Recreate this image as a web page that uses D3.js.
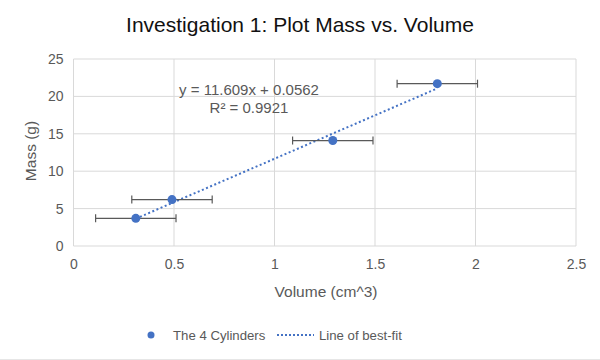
<!DOCTYPE html>
<html><head><meta charset="utf-8">
<script src="https://cdn.jsdelivr.net/npm/d3@7"></script>
<style>body{margin:0;background:#fff}svg{display:block;font-family:"Liberation Sans",Arial,sans-serif}</style>
</head><body><svg id="c" width="600" height="360"></svg>
<script>
const volumes = [0.31, 0.49, 1.29, 1.81];
const masses = [3.7, 6.2, 14.1, 21.7];
const xErrors = [0.2, 0.2, 0.2, 0.2];
const fitSlope = 11.609, fitIntercept = 0.0562;
const xTicks = [0, 0.5, 1, 1.5, 2, 2.5];
const yTicks = [0, 5, 10, 15, 20, 25];
const titleText = "Investigation 1: Plot Mass vs. Volume";
const xTitle = "Volume (cm^3)", yTitle = "Mass (g)";
const eqLines = ["y = 11.609x + 0.0562", "R² = 0.9921"];
const legendLabels = ["The 4 Cylinders", "Line of best-fit"];

const svg = d3.select("#c");
const blue = "#4472c4", grid = "#d9d9d9", txt = "#595959";
const x = d3.scaleLinear().domain([0, 2.5]).range([73.5, 576]);
const y = d3.scaleLinear().domain([0, 25]).range([246, 59]);

// gridlines
svg.append("g").selectAll("line").data(xTicks).join("line")
  .attr("x1", d => x(d)).attr("x2", d => x(d)).attr("y1", y(0)).attr("y2", y(25))
  .attr("stroke", grid).attr("stroke-width", 1);
svg.append("g").selectAll("line").data(yTicks).join("line")
  .attr("x1", x(0)).attr("x2", x(2.5)).attr("y1", d => y(d)).attr("y2", d => y(d))
  .attr("stroke", grid).attr("stroke-width", 1);

// axes labels via d3 axes
const xa = svg.append("g").attr("transform", `translate(0,${y(0)})`)
  .call(d3.axisBottom(x).tickValues(xTicks).tickSize(0).tickPadding(13).tickFormat(d3.format("")));
const ya = svg.append("g").attr("transform", `translate(${x(0)},0)`)
  .call(d3.axisLeft(y).tickValues(yTicks).tickSize(0).tickPadding(10));
[xa, ya].forEach(a => {
  a.select(".domain").remove();
  a.selectAll("text").attr("fill", txt).attr("font-size", 14).attr("font-family", "Liberation Sans, Arial, sans-serif");
});

// trendline
const xs = d3.extent(volumes);
svg.append("line")
  .attr("x1", x(xs[0])).attr("y1", y(fitSlope * xs[0] + fitIntercept))
  .attr("x2", x(xs[1])).attr("y2", y(fitSlope * xs[1] + fitIntercept))
  .attr("stroke", blue).attr("stroke-width", 2).attr("stroke-dasharray", "2,2.5");

// error bars
const eb = svg.append("g").attr("stroke", "#595959").attr("stroke-width", 1.2);
volumes.forEach((v, i) => {
  const yy = y(masses[i]);
  eb.append("line").attr("x1", x(v - xErrors[i])).attr("x2", x(v + xErrors[i])).attr("y1", yy).attr("y2", yy);
  eb.append("line").attr("x1", x(v - xErrors[i])).attr("x2", x(v - xErrors[i])).attr("y1", yy - 4).attr("y2", yy + 4);
  eb.append("line").attr("x1", x(v + xErrors[i])).attr("x2", x(v + xErrors[i])).attr("y1", yy - 4).attr("y2", yy + 4);
});

// points
svg.append("g").selectAll("circle").data(volumes).join("circle")
  .attr("cx", d => x(d)).attr("cy", (d, i) => y(masses[i])).attr("r", 4.5).attr("fill", blue);

// equation
svg.append("text").attr("x", 249).attr("y", 95).attr("text-anchor", "middle")
  .attr("font-size", 15).attr("fill", txt).text(eqLines[0]);
svg.append("text").attr("x", 249).attr("y", 113).attr("text-anchor", "middle")
  .attr("font-size", 15).attr("fill", txt).text(eqLines[1]);

// titles
svg.append("text").attr("x", 300).attr("y", 32).attr("text-anchor", "middle")
  .attr("font-size", 21).attr("fill", "#111").text(titleText);
svg.append("text").attr("x", 326).attr("y", 297).attr("text-anchor", "middle")
  .attr("font-size", 15.5).attr("fill", txt).text(xTitle);
svg.append("text").attr("transform", "translate(36,151) rotate(-90)").attr("text-anchor", "middle")
  .attr("font-size", 15.5).attr("fill", txt).text(yTitle);

// legend
svg.append("circle").attr("cx", 151).attr("cy", 335).attr("r", 3.5).attr("fill", blue);
svg.append("text").attr("x", 173).attr("y", 339.5).attr("font-size", 13.2).attr("fill", txt).text(legendLabels[0]);
svg.append("line").attr("x1", 277).attr("x2", 314).attr("y1", 335).attr("y2", 335)
  .attr("stroke", blue).attr("stroke-width", 2).attr("stroke-dasharray", "2,2");
svg.append("text").attr("x", 319).attr("y", 339.5).attr("font-size", 13.2).attr("fill", txt).text(legendLabels[1]);

// bottom border
svg.append("line").attr("x1", 0).attr("x2", 600).attr("y1", 359.5).attr("y2", 359.5).attr("stroke", "#e6e6e6");
</script></body></html>
